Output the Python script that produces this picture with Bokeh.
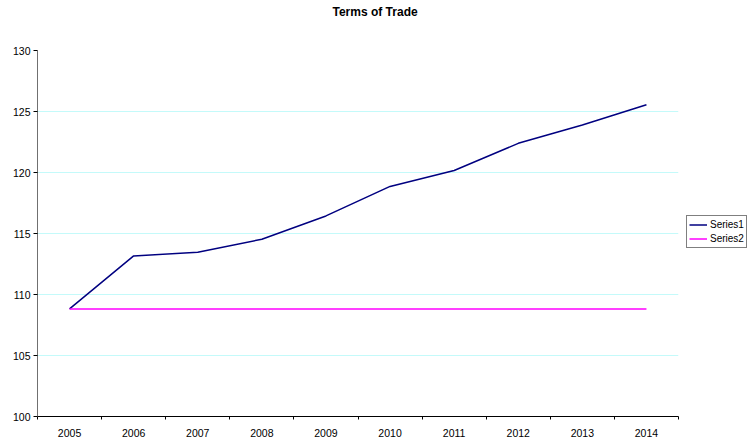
import numpy as np
from bokeh.plotting import figure
from bokeh.models import Range1d, FixedTicker, Legend, LegendItem, Title
from bokeh.embed import file_html
from bokeh.resources import INLINE

years = ["2005", "2006", "2007", "2008", "2009", "2010", "2011", "2012", "2013", "2014"]
series1 = [108.82, 113.16, 113.47, 114.53, 116.44, 118.86, 120.16, 122.39, 123.89, 125.55]
series2 = [108.82, 108.82, 108.82, 108.82, 108.82, 108.82, 108.82, 108.82, 108.82, 108.82]
y_ticks = [100, 105, 110, 115, 120, 125, 130]

FONT = "Liberation Sans"
xpos = np.arange(len(years)) + 0.5

p = figure(output_backend="svg", toolbar_location=None, title=None,
           frame_width=641, frame_height=366,
           min_border_left=37, min_border_right=73, min_border_top=0, min_border_bottom=0,
           x_range=Range1d(0, len(years)), y_range=Range1d(y_ticks[0], y_ticks[-1]),
           background_fill_color="white", border_fill_color="white")
p.outline_line_color = None

spacer = Title(text=" ", text_font=FONT, text_font_size="1px", standoff=27.25)
p.add_layout(spacer, "above")
t = Title(text="Terms of Trade", align="left", offset=295, text_font=FONT,
          text_font_size="12px", text_font_style="bold", text_color="#000000",
          standoff=4)
p.add_layout(t, "above")

l1 = p.line(xpos, series1, line_color="#000080", line_width=1.5)
l2 = p.line(xpos, series2, line_color="#FF00FF", line_width=1.5)

# x axis
xa = p.xaxis[0]
xa.ticker = FixedTicker(ticks=list(xpos), minor_ticks=list(range(len(years) + 1)))
xa.major_label_overrides = {float(x): y for x, y in zip(xpos, years)}
xa.major_tick_out = 0
xa.major_tick_in = 0
xa.minor_tick_out = 3
xa.minor_tick_in = 0
xa.minor_tick_line_color = "#000000"
xa.axis_line_color = "#000000"
xa.axis_line_width = 1
xa.major_label_standoff = 9
xa.major_label_text_font = FONT
xa.major_label_text_font_size = "10.5px"
xa.major_label_text_color = "#000000"

# y axis
ya = p.yaxis[0]
ya.ticker = FixedTicker(ticks=y_ticks)
ya.major_tick_out = 4
ya.major_tick_in = 0
ya.minor_tick_line_color = None
ya.axis_line_color = "#707070"
ya.major_tick_line_color = "#000000"
ya.major_label_standoff = 3
ya.major_label_text_font = FONT
ya.major_label_text_font_size = "10.5px"
ya.major_label_text_color = "#000000"

p.xgrid.grid_line_color = None
p.ygrid.grid_line_color = "#C4FAFA"
p.ygrid.grid_line_width = 1

legend = Legend(items=[LegendItem(label="Series1", renderers=[l1]),
                       LegendItem(label="Series2", renderers=[l2])],
                location=(8, 168), orientation="vertical",
                label_text_font=FONT, label_text_font_size="10px",
                label_text_color="#000000",
                glyph_width=18, glyph_height=13, label_standoff=3,
                label_height=13, spacing=1, padding=2, margin=0,
                border_line_color="#000000", border_line_width=1,
                background_fill_color="white", background_fill_alpha=1)
p.add_layout(legend, "right")

open("out.html", "w").write(file_html(p, INLINE))
